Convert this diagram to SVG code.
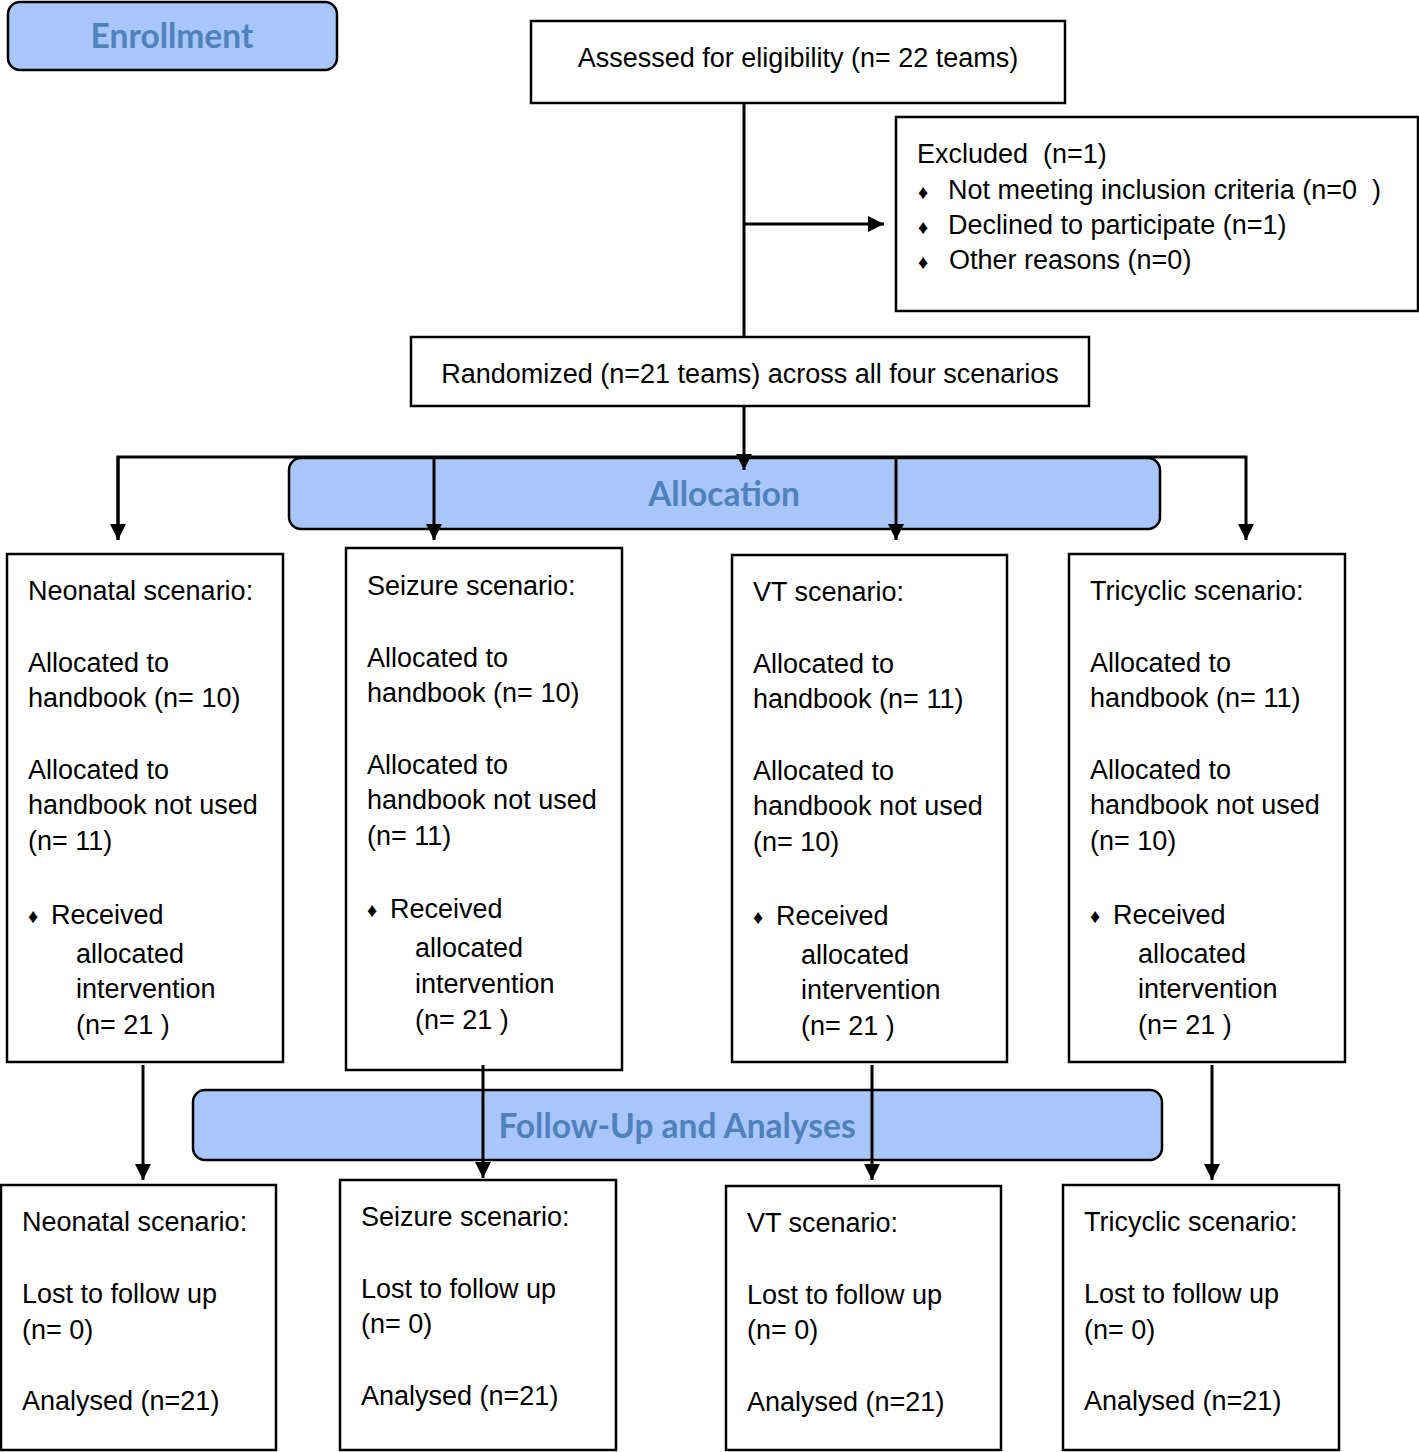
<svg xmlns="http://www.w3.org/2000/svg" width="1419" height="1452" viewBox="0 0 1419 1452">
<defs>
<marker id="ahb" viewBox="0 0 10 10" refX="10" refY="5" markerWidth="16" markerHeight="16" markerUnits="userSpaceOnUse" orient="auto">
<path d="M0,0 L10,5 L0,10 Z" fill="#000"/>
</marker>
</defs>
<style>
.box{fill:#fff;stroke:#000;stroke-width:2.5}
.band{fill:#a9c6fa;stroke:#000;stroke-width:2.5}
.t{font-family:"Liberation Sans",Arial,sans-serif;font-size:27px;fill:#000;white-space:pre}
.b{font-family:"Liberation Sans",Arial,sans-serif;font-size:20px;fill:#000}
.h{font-family:Lato,"Open Sans",sans-serif;font-weight:bold;font-size:33.5px;fill:#4f81bd;text-anchor:middle}
.c{fill:none;stroke:#000;stroke-width:3}
</style>
<rect width="1419" height="1452" fill="#fff"/>

<g id="enrollment">
<rect class="band" x="8" y="2" width="329" height="68" rx="12"/>
<text class="h" x="172" y="48" font-size="34">Enrollment</text>
</g>

<g id="assessed">
<rect class="box" x="531" y="21" width="534" height="82"/>
<text class="t" x="798" y="67" text-anchor="middle">Assessed for eligibility (n= 22 teams)</text>
</g>

<g id="excluded">
<rect class="box" x="896" y="117" width="522" height="194"/>
<text class="t" x="917" y="163">Excluded  (n=1)</text>
<text class="b" x="918" y="199">♦</text>
<text class="t" x="948" y="199">Not meeting inclusion criteria (n=0  )</text>
<text class="b" x="918" y="234">♦</text>
<text class="t" x="948" y="234">Declined to participate (n=1)</text>
<text class="b" x="918" y="269">♦</text>
<text class="t" x="949" y="269">Other reasons (n=0)</text>
</g>

<g id="randomized">
<rect class="box" x="411" y="337" width="678" height="69"/>
<text class="t" x="750" y="383" text-anchor="middle">Randomized (n=21 teams) across all four scenarios</text>
</g>

<g id="allocation">
<rect class="band" x="289" y="458" width="871" height="71" rx="12"/>
<text class="h" x="724" y="506">Allocation</text>
</g>

<g id="followup">
<rect class="band" x="193" y="1090" width="969" height="70" rx="12"/>
<text class="h" x="677" y="1138">Follow-Up and Analyses</text>
</g>

<g id="neonatal-alloc">
<rect class="box" x="7" y="554" width="276" height="508"/>
<text class="t" x="28" y="600">Neonatal scenario:</text>
<text class="t" x="28" y="672">Allocated to</text>
<text class="t" x="28" y="707">handbook (n= 10)</text>
<text class="t" x="28" y="779">Allocated to</text>
<text class="t" x="28" y="814">handbook not used</text>
<text class="t" x="28" y="850">(n= 11)</text>
<text class="b" x="28" y="923">♦</text>
<text class="t" x="51" y="924">Received</text>
<text class="t" x="76" y="963">allocated</text>
<text class="t" x="76" y="998">intervention</text>
<text class="t" x="76" y="1034">(n= 21 )</text>
</g>

<g id="seizure-alloc">
<rect class="box" x="346" y="548" width="276" height="522"/>
<text class="t" x="367" y="595">Seizure scenario:</text>
<text class="t" x="367" y="667">Allocated to</text>
<text class="t" x="367" y="702">handbook (n= 10)</text>
<text class="t" x="367" y="774">Allocated to</text>
<text class="t" x="367" y="809">handbook not used</text>
<text class="t" x="367" y="845">(n= 11)</text>
<text class="b" x="367" y="917">♦</text>
<text class="t" x="390" y="918">Received</text>
<text class="t" x="415" y="957">allocated</text>
<text class="t" x="415" y="993">intervention</text>
<text class="t" x="415" y="1029">(n= 21 )</text>
</g>

<g id="vt-alloc">
<rect class="box" x="732" y="555" width="275" height="507"/>
<text class="t" x="753" y="601">VT scenario:</text>
<text class="t" x="753" y="673">Allocated to</text>
<text class="t" x="753" y="708">handbook (n= 11)</text>
<text class="t" x="753" y="780">Allocated to</text>
<text class="t" x="753" y="815">handbook not used</text>
<text class="t" x="753" y="851">(n= 10)</text>
<text class="b" x="753" y="924">♦</text>
<text class="t" x="776" y="925">Received</text>
<text class="t" x="801" y="964">allocated</text>
<text class="t" x="801" y="999">intervention</text>
<text class="t" x="801" y="1035">(n= 21 )</text>
</g>

<g id="tricyclic-alloc">
<rect class="box" x="1069" y="554" width="276" height="508"/>
<text class="t" x="1090" y="600">Tricyclic scenario:</text>
<text class="t" x="1090" y="672">Allocated to</text>
<text class="t" x="1090" y="707">handbook (n= 11)</text>
<text class="t" x="1090" y="779">Allocated to</text>
<text class="t" x="1090" y="814">handbook not used</text>
<text class="t" x="1090" y="850">(n= 10)</text>
<text class="b" x="1090" y="923">♦</text>
<text class="t" x="1113" y="924">Received</text>
<text class="t" x="1138" y="963">allocated</text>
<text class="t" x="1138" y="998">intervention</text>
<text class="t" x="1138" y="1034">(n= 21 )</text>
</g>

<g id="neonatal-fu">
<rect class="box" x="1" y="1185" width="275" height="265"/>
<text class="t" x="22" y="1231">Neonatal scenario:</text>
<text class="t" x="22" y="1303">Lost to follow up</text>
<text class="t" x="22" y="1339">(n= 0)</text>
<text class="t" x="22" y="1410">Analysed (n=21)</text>
</g>

<g id="seizure-fu">
<rect class="box" x="340" y="1180" width="276" height="270"/>
<text class="t" x="361" y="1226">Seizure scenario:</text>
<text class="t" x="361" y="1298">Lost to follow up</text>
<text class="t" x="361" y="1333">(n= 0)</text>
<text class="t" x="361" y="1405">Analysed (n=21)</text>
</g>

<g id="vt-fu">
<rect class="box" x="726" y="1186" width="275" height="264"/>
<text class="t" x="747" y="1232">VT scenario:</text>
<text class="t" x="747" y="1304">Lost to follow up</text>
<text class="t" x="747" y="1339">(n= 0)</text>
<text class="t" x="747" y="1411">Analysed (n=21)</text>
</g>

<g id="tricyclic-fu">
<rect class="box" x="1063" y="1185" width="276" height="265"/>
<text class="t" x="1084" y="1231">Tricyclic scenario:</text>
<text class="t" x="1084" y="1303">Lost to follow up</text>
<text class="t" x="1084" y="1339">(n= 0)</text>
<text class="t" x="1084" y="1410">Analysed (n=21)</text>
</g>

<g id="connectors">
<line class="c" x1="744" y1="103" x2="744" y2="337"/>
<line class="c" x1="744" y1="224" x2="884" y2="224" marker-end="url(#ahb)"/>
<line class="c" x1="744" y1="406" x2="744" y2="470" marker-end="url(#ahb)"/>
<polyline class="c" points="118,540 118,457 1246,457 1246,540" marker-end="url(#ahb)"/>
<path class="c" d="M118,457 L118,540" marker-end="url(#ahb)"/>
<line class="c" x1="434" y1="457" x2="434" y2="540" marker-end="url(#ahb)"/>
<line class="c" x1="896" y1="457" x2="896" y2="540" marker-end="url(#ahb)"/>
<line class="c" x1="143" y1="1065" x2="143" y2="1180" marker-end="url(#ahb)"/>
<line class="c" x1="483" y1="1065" x2="483" y2="1178" marker-end="url(#ahb)"/>
<line class="c" x1="872" y1="1065" x2="872" y2="1180" marker-end="url(#ahb)"/>
<line class="c" x1="1212" y1="1065" x2="1212" y2="1180" marker-end="url(#ahb)"/>
</g>
</svg>
